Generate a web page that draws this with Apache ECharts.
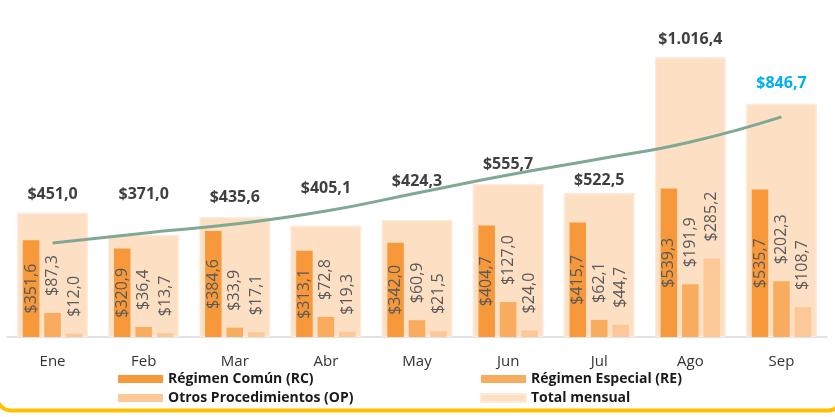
<!DOCTYPE html>
<html>
<head>
<meta charset="utf-8">
<script src="https://cdn.jsdelivr.net/npm/echarts@6/dist/echarts.min.js"></script>
<style>
  html, body { margin: 0; padding: 0; background: #fff; }
  #chart { width: 835px; height: 417px; }
</style>
</head>
<body>
<div id="chart"></div>
<script>
// meses y valores (miles de millones)
var meses = ['Ene', 'Feb', 'Mar', 'Abr', 'May', 'Jun', 'Jul', 'Ago', 'Sep'];
var regComun = [351.6, 320.9, 384.6, 313.1, 342.0, 404.7, 415.7, 539.3, 535.7];
var regEspecial = [87.3, 36.4, 33.9, 72.8, 60.9, 127.0, 62.1, 191.9, 202.3];
var otrosProc = [12.0, 13.7, 17.1, 19.3, 21.5, 24.0, 44.7, 285.2, 108.7];
var totalMensual = [451.0, 371.0, 435.6, 405.1, 424.3, 555.7, 522.5, 1016.4, 846.7];
// linea de tendencia
var tendencia = [341, 377, 410, 457, 523, 588, 646, 708, 799];
// separacion de la etiqueta del total (algunas subidas para no tocar la linea)
var distEtiqueta = [10, 32, 12, 29, 31, 11, 5, 10, 12];

var FONT = '"Open Sans", "Noto Sans", sans-serif';

function fmt(v) {
    var s = v.toFixed(1).split('.');
    var ent = s[0].replace(/\B(?=(\d{3})+(?!\d))/g, '.');
    return '$' + ent + ',' + s[1];
}

var innerLabelTop = {
    show: true,
    position: 'top',
    rotate: 90,
    align: 'left',
    verticalAlign: 'middle',
    distance: 17,
    color: '#595959',
    fontFamily: FONT,
    fontSize: 16,
    formatter: function (p) { return fmt(p.value); }
};

var legendText = { fontFamily: FONT, fontSize: 14, fontWeight: 'bold', color: '#1a1a1a', lineHeight: 14 };

var chart = echarts.init(document.getElementById('chart'), null, { renderer: 'canvas' });

var option = {
    backgroundColor: '#fff',
    animation: false,
    grid: { left: 7, right: 8, top: 6.4, bottom: 80 },
    legend: [{
        left: 118,
        top: 372,
        padding: 0,
        orient: 'vertical',
        itemWidth: 45,
        itemHeight: 8,
        itemGap: 5,
        icon: 'rect',
        textStyle: legendText,
        data: ['Régimen Común (RC)', 'Otros Procedimientos (OP)']
    }, {
        left: 480,
        top: 372,
        padding: 0,
        orient: 'vertical',
        itemWidth: 45,
        itemHeight: 8,
        itemGap: 5,
        icon: 'rect',
        textStyle: legendText,
        data: ['Régimen Especial (RE)', 'Total mensual']
    }],
    xAxis: [{
        type: 'category',
        data: meses,
        axisLine: { lineStyle: { color: '#D9D9D9', width: 1.5 } },
        axisTick: { show: false },
        axisLabel: { fontFamily: FONT, fontSize: 15, color: '#333', margin: 17 }
    }, {
        type: 'category',
        data: meses,
        show: false
    }],
    yAxis: {
        type: 'value',
        min: 0,
        max: 1200,
        show: false,
        splitLine: { show: false }
    },
    series: [{
        name: 'Total mensual',
        type: 'bar',
        xAxisIndex: 1,
        barWidth: 71,
        z: 1,
        data: totalMensual.map(function (v, i) {
            var d = { value: v, label: { distance: distEtiqueta[i] } };
            if (i === 8) d.label.color = '#00B0F0';
            return d;
        }),
        itemStyle: { color: '#FDDFC4', borderColor: '#FCEADB', borderWidth: 1.5 },
        label: {
            show: true,
            position: 'top',
            color: '#404040',
            fontFamily: FONT,
            fontWeight: 'bold',
            fontSize: 16,
            formatter: function (p) { return fmt(p.value); }
        }
    }, {
        name: 'Régimen Común (RC)',
        type: 'bar',
        barWidth: 16.5,
        barGap: '30%',
        z: 2,
        data: regComun,
        itemStyle: { color: '#F7993A' },
        label: {
            show: true,
            position: 'inside',
            rotate: 90,
            color: '#595959',
            fontFamily: FONT,
            fontSize: 16,
            formatter: function (p) { return fmt(p.value); }
        }
    }, {
        name: 'Régimen Especial (RE)',
        type: 'bar',
        barWidth: 16.5,
        barGap: '30%',
        z: 2,
        data: regEspecial,
        itemStyle: { color: '#FAAC5E' },
        label: innerLabelTop
    }, {
        name: 'Otros Procedimientos (OP)',
        type: 'bar',
        barWidth: 16.5,
        barGap: '30%',
        z: 2,
        data: otrosProc,
        itemStyle: { color: '#FCC898' },
        label: innerLabelTop
    }, {
        name: 'Tendencia',
        type: 'line',
        smooth: true,
        symbol: 'none',
        z: 3,
        data: tendencia,
        lineStyle: { color: '#80A994', width: 3 }
    }],
    graphic: [{
        type: 'rect',
        silent: true,
        shape: { x: -3, y: -20, width: 845, height: 430.5, r: 14 },
        style: { fill: 'none', stroke: '#FFC000', lineWidth: 4 }
    }]
};

chart.setOption(option);
</script>
</body>
</html>
